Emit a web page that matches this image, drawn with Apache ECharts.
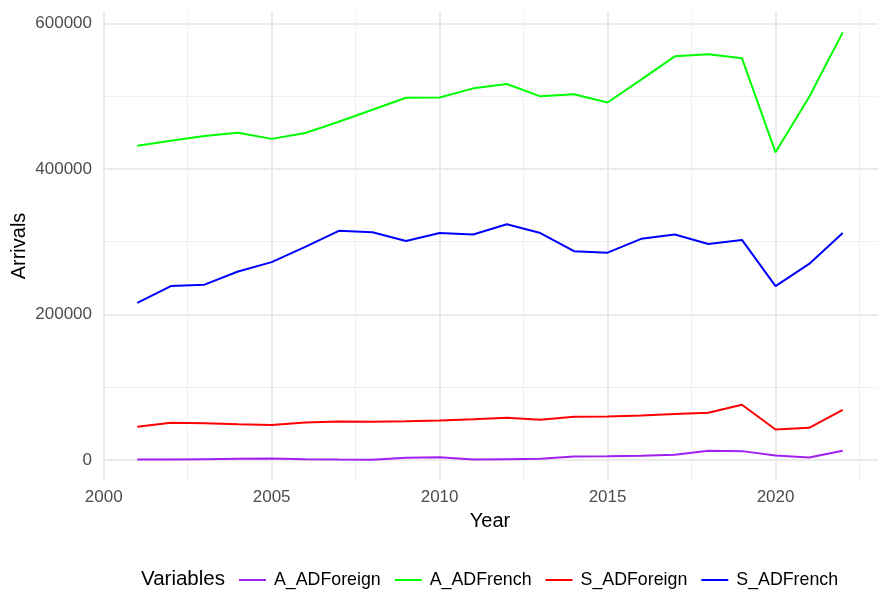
<!DOCTYPE html>
<html>
<head>
<meta charset="utf-8">
<script src="https://cdn.jsdelivr.net/npm/echarts@6/dist/echarts.min.js"></script>
<style>
  html, body { margin: 0; padding: 0; background: #fff; }
  #chart { width: 881px; height: 596px; }
</style>
</head>
<body>
<div id="chart"></div>
<script>
var years = [2001, 2002, 2003, 2004, 2005, 2006, 2007, 2008, 2009, 2010, 2011,
	2012, 2013, 2014, 2015, 2016, 2017, 2018, 2019, 2020, 2021, 2022];

var aForeign = [600, 500, 1000, 1500, 2000, 1000, 500, 300, 3000, 3500, 500,
	1000, 1500, 4700, 4800, 5500, 7000, 12400, 12000, 6000, 3300, 12400];
var aFrench = [432000, 439000, 445500, 450000, 441500, 449500, 465000, 481500, 498000, 498500, 511000,
	517000, 500000, 503000, 491500, 523000, 555000, 558000, 552500, 423000, 499000, 588000];
var sForeign = [45400, 51000, 50500, 49000, 47800, 51500, 52900, 52500, 53000, 54200, 56000,
	57900, 55000, 59200, 59600, 61000, 63000, 64700, 75700, 41800, 44000, 68900];
var sFrench = [216000, 239000, 241000, 259000, 272000, 293000, 315000, 313000, 301000, 312000, 310000,
	324000, 312000, 287000, 285000, 304000, 310000, 297000, 302500, 239000, 269500, 312000];

var seriesNames = ['A_ADForeign', 'A_ADFrench', 'S_ADForeign', 'S_ADFrench'];
var seriesColors = ['#A020F0', '#00FF00', '#FF0000', '#0000FF'];
var seriesValues = [aForeign, aFrench, sForeign, sFrench];

var font = '"Liberation Sans", Arial, Helvetica, sans-serif';
var xMin = 1999.95, xMax = 2023.05;
var yMin = -29085, yMax = 617385;

function pairs(values){
	var out = [];
	for(var i = 0; i < years.length; i++){
		out.push([years[i], values[i]]);
	}
	return out;
}

var series = [];
for(var i = 0; i < seriesNames.length; i++){
	series.push({
		name: seriesNames[i],
		type: 'line',
		xAxisIndex: 0,
		yAxisIndex: 0,
		data: pairs(seriesValues[i]),
		symbol: 'none',
		lineStyle: { color: seriesColors[i], width: 2 },
		itemStyle: { color: seriesColors[i] }
	});
}

// axis 0 draws labels + minor grid, axis 1 only the major grid lines
function gridAxis(min, max, step, color, width){
	return {
		type: 'value', min: min, max: max,
		minInterval: step, maxInterval: step,
		axisLine: { show: false }, axisTick: { show: false }, axisLabel: { show: false },
		splitLine: { show: true, showMinLine: false, showMaxLine: false,
			lineStyle: { color: color, width: width } }
	};
}

var chart = echarts.init(document.getElementById('chart'));
chart.setOption({
	animation: false,
	backgroundColor: '#ffffff',
	grid: { left: 102, right: 3, top: 11, bottom: 115, outerBoundsMode: 'none', containLabel: false },
	xAxis: [{
		type: 'value',
		min: xMin,
		max: xMax,
		minInterval: 2.5,
		maxInterval: 2.5,
		name: 'Year',
		nameLocation: 'middle',
		nameGap: 30,
		nameMoveOverlap: false,
		nameTextStyle: { color: '#000', fontSize: 20, fontFamily: font },
		axisLine: { show: false },
		axisTick: { show: false },
		axisLabel: {
			color: '#4D4D4D', fontSize: 17, fontFamily: font, margin: 8,
			formatter: function(v){ return (Math.abs(v % 5) < 1e-6) ? String(Math.round(v)) : ''; }
		},
		splitLine: {
			show: true, showMinLine: false, showMaxLine: false,
			lineStyle: { color: '#F0F0F0', width: 1 }
		}
	}, gridAxis(xMin, xMax, 5, '#EBEBEB', 2)],
	yAxis: [{
		type: 'value',
		min: yMin,
		max: yMax,
		minInterval: 100000,
		maxInterval: 100000,
		name: 'Arrivals',
		nameLocation: 'middle',
		nameGap: 73,
		nameRotate: 90,
		nameMoveOverlap: false,
		nameTextStyle: { color: '#000', fontSize: 20, fontFamily: font },
		axisLine: { show: false },
		axisTick: { show: false },
		axisLabel: {
			color: '#4D4D4D', fontSize: 17, fontFamily: font, margin: 10,
			formatter: function(v){ return (Math.abs(v % 200000) < 1e-6) ? String(Math.round(v)) : ''; }
		},
		splitLine: {
			show: true, showMinLine: false, showMaxLine: false,
			lineStyle: { color: '#F0F0F0', width: 1 }
		}
	}, gridAxis(yMin, yMax, 200000, '#EBEBEB', 2)],
	legend: {
		data: seriesNames,
		left: 239,
		top: 571,
		padding: 0,
		icon: 'rect',
		itemWidth: 27,
		itemHeight: 2,
		itemGap: 14,
		textStyle: { color: '#000', fontSize: 17.8, fontFamily: font, padding: [0, 0, 0, 3] }
	},
	graphic: [{
		type: 'text',
		left: 141,
		top: 569,
		style: { text: 'Variables', fill: '#000', font: '20.5px ' + font }
	}],
	series: series
});
</script>
</body>
</html>
